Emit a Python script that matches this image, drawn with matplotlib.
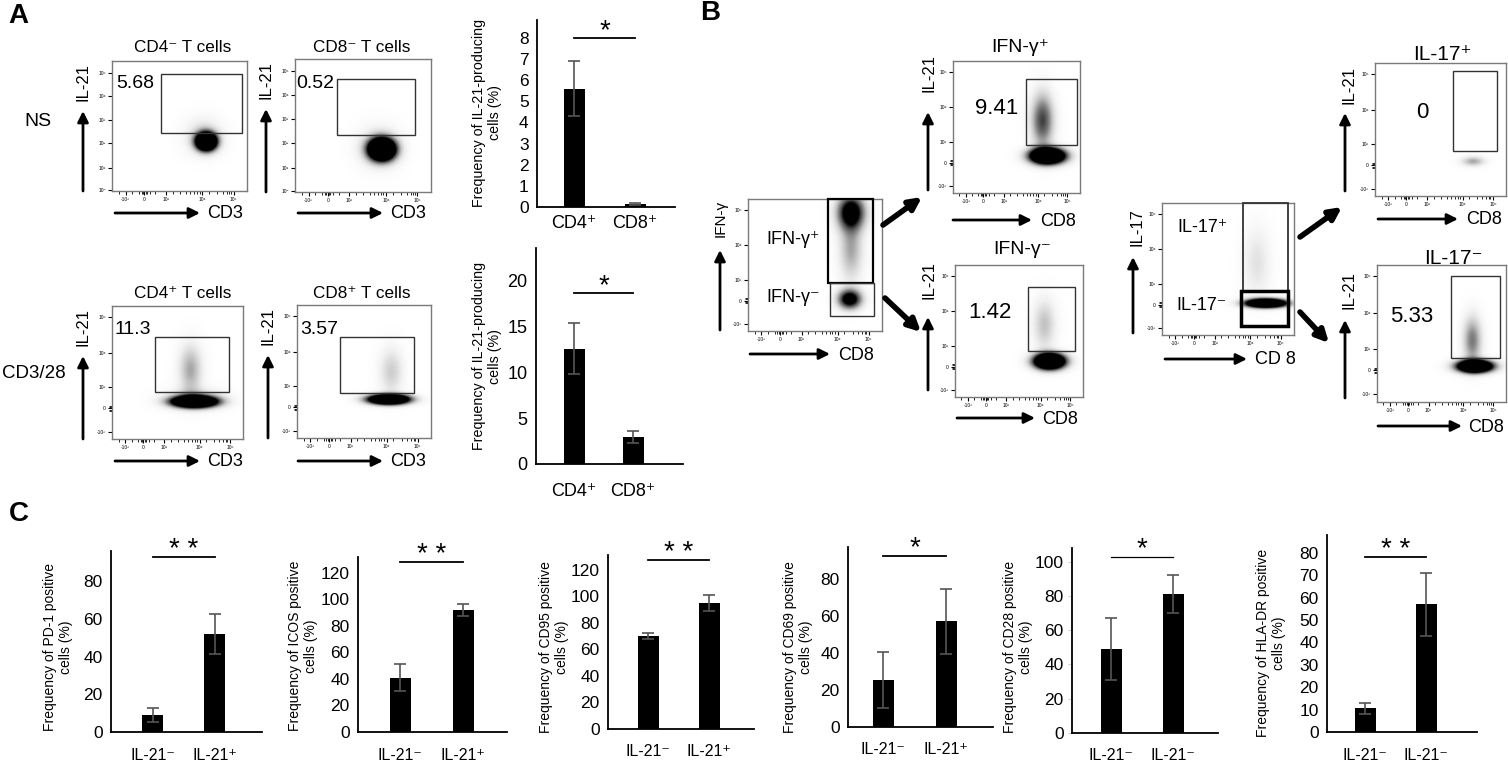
import numpy as np
import matplotlib.pyplot as plt
from matplotlib.patches import Rectangle

W, H = 1508, 764
plt.rcParams['font.family'] = ['Liberation Sans', 'DejaVu Sans']

# ---- panel A bar data ----
a_groups = ['CD4⁺', 'CD8⁺']
a_ns_vals = [5.6, 0.15]
a_ns_err = [1.3, 0.05]
a_cd328_vals = [12.6, 2.95]
a_cd328_err = [2.8, 0.7]

# ---- panel C bar data ----
c_markers = ['PD-1', 'ICOS', 'CD95', 'CD69', 'CD28', 'HLA-DR']
c_xlabels = [['IL-21⁻', 'IL-21⁺']] * 4 + [['IL-21⁻', 'IL-21⁻']] * 2
c_neg = [9, 41, 70, 25.5, 49, 10.5]
c_neg_err = [3.5, 10, 2.5, 15, 18, 2.5]
c_pos = [52, 92, 95, 57, 81, 57]
c_pos_err = [10.5, 4.5, 6, 17.5, 11, 14]
c_stars = ['**', '**', '**', '*', '*', '**']
c_yticks = [np.arange(0, 81, 20), np.arange(0, 121, 20), np.arange(0, 121, 20),
            np.arange(0, 81, 20), np.arange(0, 101, 20), np.arange(0, 81, 10)]

# ---- flow gate numbers ----
gate_pct = ['5.68', '0.52', '11.3', '3.57', '9.41', '1.42', '0', '5.33']

fig = plt.figure(figsize=(W / 100, H / 100), dpi=100)


def px_ax(x0, y0, x1, y1):
    return fig.add_axes([x0 / W, 1 - y1 / H, (x1 - x0) / W, (y1 - y0) / H])


# overlay for arrows / free text, in pixel coords
ov = fig.add_axes([0, 0, 1, 1], zorder=10)
ov.set_xlim(0, W)
ov.set_ylim(H, 0)
ov.axis('off')
ov.patch.set_alpha(0)


def txt(x, y, s, fs=11, **kw):
    kw.setdefault('ha', 'center')
    kw.setdefault('va', 'center')
    ov.text(x, y, s, fontsize=fs, **kw)


def arrow(x0, y0, x1, y1, lw=2.0, ms=16):
    ov.annotate('', xy=(x1, y1), xytext=(x0, y0),
                arrowprops=dict(arrowstyle='-|>', lw=lw, color='k',
                                mutation_scale=ms, shrinkA=0, shrinkB=0))


def flow(box, yscale, gates, blobs):
    ax = px_ax(*box)
    gx, gy = np.meshgrid(np.linspace(0, 1, 300), np.linspace(0, 1, 300))
    d = np.zeros_like(gx)
    for cx, cy, sx, sy, w in blobs:
        d += w * np.exp(-((gx - cx) / sx) ** 2 / 2 - ((gy - cy) / sy) ** 2 / 2)
    ax.imshow(np.clip(d, 0, 1), extent=(0, 1, 0, 1), origin='lower', cmap='Greys',
              vmin=0, vmax=1, aspect='auto', interpolation='bilinear', zorder=1)
    for gx0, gy0, gx1, gy1, lw in gates:
        ax.add_patch(Rectangle((gx0, gy0), gx1 - gx0, gy1 - gy0, fill=False,
                               ec='#333333' if lw < 1.5 else 'k', lw=lw, zorder=3,
                               clip_on=False))
    ax.set_xlim(0, 1)
    ax.set_ylim(0, 1)
    ax.set_xticks([0.10, 0.24, 0.40, 0.67, 0.90])
    ax.set_xticklabels(['-10³', '0', '10³', '10⁴', '10⁵'])
    ax.set_xticks([0.05, 0.15, 0.20, 0.22, 0.23, 0.25, 0.26, 0.28, 0.32, 0.45, 0.50,
                   0.55, 0.58, 0.61, 0.63, 0.65, 0.72, 0.78, 0.82, 0.85, 0.87, 0.88], minor=True)
    if yscale == 'log':
        ax.set_yticks([0.005, 0.18, 0.37, 0.55, 0.73, 0.91])
        ax.set_yticklabels(['10⁰', '10¹', '10²', '10³', '10⁴', '10⁵'])
    else:
        ax.set_yticks([0.055, 0.23, 0.39, 0.65, 0.92])
        ax.set_yticklabels(['-10³', '0', '10³', '10⁴', '10⁵'])
        ax.set_yticks([0.21, 0.22, 0.24, 0.25], minor=True)
    ax.tick_params(which='major', length=3, width=0.8, labelsize=3.5, pad=1.5)
    ax.tick_params(which='minor', length=2, width=0.6)
    for s in ax.spines.values():
        s.set_color('#7a7a7a')
        s.set_linewidth(1.0)
    return ax


# ================= panel A flow plots =================
flow((112, 61, 247, 191), 'log', [(0.36, 0.45, 0.96, 0.90, 1.0)],
     [(0.70, 0.38, 0.05, 0.045, 3), (0.68, 0.42, 0.09, 0.09, 0.3)])
flow((295, 59, 431, 192), 'log', [(0.31, 0.43, 0.88, 0.85, 1.0)],
     [(0.64, 0.32, 0.065, 0.055, 3), (0.62, 0.34, 0.1, 0.1, 0.3)])
flow((112, 306, 243, 439), 'bi', [(0.33, 0.35, 0.89, 0.77, 1.0)],
     [(0.63, 0.28, 0.11, 0.028, 3), (0.60, 0.52, 0.06, 0.13, 0.45),
      (0.63, 0.30, 0.14, 0.05, 0.4)])
flow((297, 305, 431, 438), 'bi', [(0.32, 0.34, 0.87, 0.76, 1.0)],
     [(0.68, 0.29, 0.10, 0.025, 3), (0.70, 0.50, 0.06, 0.12, 0.3)])

txt(183, 48, 'CD4⁻ T cells', 12.3)
txt(362, 48, 'CD8⁻ T cells', 12.3)
txt(183, 294, 'CD4⁺ T cells', 12.3)
txt(362, 294, 'CD8⁺ T cells', 12.3)
txt(116, 83, gate_pct[0], 14, ha='left')
txt(296, 83, gate_pct[1], 14, ha='left')
txt(114, 329, gate_pct[2], 14, ha='left')
txt(300, 329, gate_pct[3], 14, ha='left')
txt(38, 122, 'NS', 14)
txt(34, 373, 'CD3/28', 13.5)
for ax_x, y_top, y_bot in [(83, 61, 191), (266, 59, 192), (83, 306, 439), (268, 305, 438)]:
    txt(ax_x, y_top + 21, 'IL-21', 12, rotation=90)
    arrow(ax_x, y_bot, ax_x, y_top + 50)
for x0, y in [(115, 213), (298, 213), (115, 461), (298, 461)]:
    arrow(x0, y, x0 + 85, y)
    txt(x0 + 92, y, 'CD3', 13, ha='left')


# ================= bar helper =================
def bars(x0, x1, ytop, yzero, b0, b1, ymax, vals, errs, yticks, sig, stars,
         labels, tick_fs=12.5, lab_fs=11, sig_lw=1.3, lab_off=23):
    s = b1 - b0
    ax = px_ax(x0, ytop, x1, yzero)
    ax.bar([0, 1], vals, width=21 / s, color='k', zorder=2)
    ax.errorbar([0, 1], vals, yerr=errs, fmt='none', ecolor='#555555', elinewidth=1.2,
                capsize=4, capthick=1.2, zorder=3)
    ax.set_xlim((x0 - b0) / s, (x1 - b0) / s)
    ax.set_ylim(0, ymax)
    ax.set_yticks(yticks)
    ax.tick_params(axis='y', length=0, labelsize=tick_fs, pad=6)
    ax.set_xticks([])
    for k in ['top', 'right']:
        ax.spines[k].set_visible(False)
    for k in ['left', 'bottom']:
        ax.spines[k].set_linewidth(1.3)
    ax.plot([0, 1], [sig, sig], color='k', lw=sig_lw, clip_on=False)
    ax.text(0.5, sig, stars, ha='center', va='baseline', fontsize=20)
    ax.set_facecolor('none')
    for i, l in enumerate(labels):
        txt(b0 + i * s, yzero + lab_off, l, lab_fs)
    return ax


# ================= panel A bars =================
bars(537, 675, 20, 207, 574, 635, 8.85, a_ns_vals, a_ns_err, range(0, 9), 8.0, '*',
     a_groups, tick_fs=12.5, lab_fs=13, lab_off=17)
txt(487, 113, 'Frequency of IL-21-producing\ncells (%)', 10.3, rotation=90)
bars(536, 683, 248, 464, 574, 633, 23.6, a_cd328_vals, a_cd328_err, range(0, 21, 5),
     18.7, '*', a_groups, tick_fs=13, lab_fs=13, lab_off=27)
txt(487, 356, 'Frequency of IL-21-producing\ncells (%)', 10.3, rotation=90)

# ================= panel B flow plots =================
flow((748, 199, 882, 331), 'bi', [(0.60, 0.36, 0.93, 1.0, 1.6), (0.61, 0.11, 0.94, 0.36, 1.0)],
     [(0.77, 0.90, 0.07, 0.09, 1.3), (0.77, 0.62, 0.06, 0.16, 0.45),
      (0.76, 0.24, 0.06, 0.05, 1.3)])
txt(793, 240, 'IFN-γ⁺', 13)
txt(793, 297, 'IFN-γ⁻', 13)
txt(721, 218, 'IFN-γ', 11, rotation=90)
arrow(720, 330, 720, 250)
arrow(750, 354, 830, 354)
txt(838, 355, 'CD8', 13, ha='left')

flow((953, 61, 1080, 193), 'bi', [(0.575, 0.36, 0.976, 0.86, 1.0)],
     [(0.74, 0.28, 0.09, 0.04, 3), (0.70, 0.55, 0.06, 0.14, 0.8)])
flow((955, 265, 1083, 397), 'bi', [(0.57, 0.35, 0.94, 0.83, 1.0)],
     [(0.74, 0.27, 0.08, 0.04, 3), (0.70, 0.55, 0.06, 0.13, 0.35)])
txt(1020, 47, 'IFN-γ⁺', 14)
txt(1022, 249, 'IFN-γ⁻', 14)
txt(997, 108, gate_pct[4], 16)
txt(990, 312, gate_pct[5], 16)
txt(929, 73, 'IL-21', 12, rotation=90)
arrow(928, 190, 928, 112)
txt(929, 280, 'IL-21', 12, rotation=90)
arrow(928, 390, 928, 317)
arrow(953, 220, 1032, 220)
txt(1040, 221, 'CD8', 13, ha='left')
arrow(957, 418, 1035, 418)
txt(1042, 419, 'CD8', 13, ha='left')
arrow(883, 225, 922, 197, lw=4, ms=18)
arrow(885, 298, 921, 332, lw=4, ms=18)

flow((1162, 203, 1294, 335), 'bi', [(0.61, 0.33, 0.955, 1.0, 1.3), (0.60, 0.07, 0.955, 0.33, 2.5)],
     [(0.79, 0.24, 0.10, 0.022, 3), (0.72, 0.55, 0.07, 0.18, 0.2)])
txt(1202, 227, 'IL-17⁺', 13)
txt(1202, 306, 'IL-17⁻', 13)
txt(1137, 227, 'IL-17', 12, rotation=90)
arrow(1133, 333, 1133, 257)
arrow(1165, 359, 1247, 359)
txt(1255, 360, 'CD 8', 13, ha='left')
arrow(1300, 237, 1342, 207, lw=4, ms=18)
arrow(1300, 312, 1329, 343, lw=4, ms=18)

flow((1375, 63, 1506, 196), 'bi', [(0.595, 0.34, 0.93, 0.94, 1.0)],
     [(0.75, 0.26, 0.06, 0.025, 0.45)])
flow((1377, 265, 1506, 402), 'bi', [(0.57, 0.32, 0.95, 0.92, 1.0)],
     [(0.76, 0.26, 0.09, 0.03, 3), (0.74, 0.45, 0.05, 0.12, 0.6)])
txt(1442, 54, 'IL-17⁺', 15)
txt(1453, 258, 'IL-17⁻', 15)
txt(1422, 112, gate_pct[6], 16)
txt(1412, 317, gate_pct[7], 16)
txt(1349, 85, 'IL-21', 12, rotation=90)
arrow(1345, 191, 1345, 113)
txt(1349, 290, 'IL-21', 12, rotation=90)
arrow(1345, 398, 1345, 320)
arrow(1378, 219, 1458, 219)
txt(1484, 220, 'CD8', 13)
arrow(1378, 426, 1462, 426)
txt(1486, 427, 'CD8', 13)

# ================= panel C =================
c_layout = [  # x0, x1, ytop, yzero, bar0, bar1, ymax, sig, ylabel x, ylabel y
    (111, 262, 551, 732, 153, 215, 96, 92.7, 58, 647),
    (358, 507, 557, 732, 400, 463, 132, 128, 303, 646),
    (608, 754, 555, 729, 648, 709, 131, 127, 554, 647),
    (848, 993, 547, 727, 883, 946, 97, 92.4, 798, 647),
    (1072, 1218, 548, 733, 1111, 1173, 108, 103, 1018, 647),
    (1327, 1477, 535, 732, 1365, 1426, 88, 78, 1271, 643),
]
for i, m in enumerate(c_markers):
    x0, x1, yt, yz, b0, b1, ymax, sig, lx, ly = c_layout[i]
    ax = bars(x0, x1, yt, yz, b0, b1, ymax, [c_neg[i], c_pos[i]],
              [c_neg_err[i], c_pos_err[i]], c_yticks[i], sig, c_stars[i].replace('**', '* *'),
              c_xlabels[i], tick_fs=12.5, lab_fs=11.5, sig_lw=0.9 if i == 4 else 1.3)
    if i == 4:
        ax.tick_params(axis='y', length=3, width=0.5, color='#bbbbbb', pad=3)
    txt(lx, ly, f'Frequency of {m} positive\ncells (%)', 10, rotation=90)

# panel letters
txt(8, 16, 'A', 20, fontweight='bold', ha='left')
txt(700, 13, 'B', 20, fontweight='bold', ha='left')
txt(9, 514, 'C', 20, fontweight='bold', ha='left')

fig.savefig('out.png', dpi=100)
